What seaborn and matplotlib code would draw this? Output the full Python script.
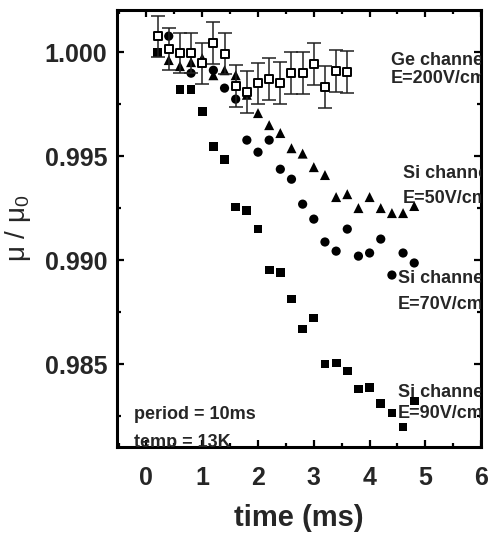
import numpy as np
import pandas as pd
import seaborn as sns
import matplotlib.pyplot as plt
from matplotlib.ticker import MultipleLocator

# Ge channel, E=200V/cm (open squares with error bars)
time_ge = [0.2, 0.4, 0.6, 0.8, 1.0, 1.2, 1.4, 1.6, 1.8, 2.0, 2.2, 2.4, 2.6, 2.8, 3.0, 3.2, 3.4, 3.6]
mu_ge = [1.00077, 1.00014, 0.99995, 0.99995, 0.99947, 1.00043, 0.99993, 0.99837, 0.99808,
         0.99851, 0.99870, 0.99851, 0.99899, 0.99899, 0.99942, 0.99832, 0.99909, 0.99904]
err_ge = [0.00098, 0.00100, 0.00095, 0.00095, 0.00098, 0.00100, 0.00097, 0.00100, 0.00100,
          0.00098, 0.00100, 0.00100, 0.00100, 0.00100, 0.00100, 0.00100, 0.00100, 0.00100]

# Si channel, E=50V/cm (triangles)
time_50 = [0.4, 0.6, 0.8, 1.0, 1.2, 1.4, 1.6, 1.8, 2.0, 2.2, 2.4, 2.6, 2.8, 3.0, 3.2, 3.4, 3.6,
           3.8, 4.0, 4.2, 4.4, 4.6, 4.8]
mu_50 = [0.99962, 0.99933, 0.99952, 0.99971, 0.99889, 0.99913, 0.99889, 0.99795, 0.99707,
         0.99649, 0.99611, 0.99538, 0.99512, 0.99447, 0.99409, 0.99303, 0.99317, 0.99250,
         0.99303, 0.99250, 0.99226, 0.99226, 0.99260]

# Si channel, E=70V/cm (circles)
time_70 = [0.4, 0.8, 1.2, 1.4, 1.6, 1.8, 2.0, 2.2, 2.4, 2.6, 2.8, 3.0, 3.2, 3.4, 3.6, 3.8,
           4.0, 4.2, 4.4, 4.6, 4.8]
mu_70 = [1.00077, 0.99899, 0.99913, 0.99827, 0.99774, 0.99577, 0.99519, 0.99577, 0.99437,
         0.99389, 0.99269, 0.99197, 0.99087, 0.99043, 0.99149, 0.99019, 0.99034, 0.99101,
         0.98928, 0.99034, 0.98986]

# Si channel, E=90V/cm (filled squares)
time_90 = [0.2, 0.6, 0.8, 1.0, 1.2, 1.4, 1.6, 1.8, 2.0, 2.2, 2.4, 2.6, 2.8, 3.0, 3.2, 3.4,
           3.6, 3.8, 4.0, 4.2, 4.4, 4.6, 4.8]
mu_90 = [1.00000, 0.99822, 0.99822, 0.99716, 0.99546, 0.99483, 0.99255, 0.99240, 0.99149,
         0.98952, 0.98942, 0.98813, 0.98668, 0.98721, 0.98500, 0.98505, 0.98466, 0.98380,
         0.98389, 0.98312, 0.98264, 0.98197, 0.98322]

sns.set_style('ticks')
plt.rcParams['font.family'] = ['Liberation Sans', 'DejaVu Sans']
plt.rcParams['mathtext.fontset'] = 'custom'
plt.rcParams['mathtext.rm'] = 'Liberation Sans'
plt.rcParams['mathtext.it'] = 'Liberation Sans'

df = pd.concat([
    pd.DataFrame({'time': time_90, 'mu': mu_90, 'series': 'E=90'}),
    pd.DataFrame({'time': time_70, 'mu': mu_70, 'series': 'E=70'}),
    pd.DataFrame({'time': time_50, 'mu': mu_50, 'series': 'E=50'}),
])

fig = plt.figure(figsize=(4.91, 5.35), dpi=100)
ax = fig.add_axes([0.238, 0.1645, 0.742, 0.8165])

sns.scatterplot(data=df, x='time', y='mu', style='series',
                markers={'E=90': 's', 'E=70': 'o', 'E=50': '^'},
                size='series', sizes={'E=90': 40, 'E=70': 44, 'E=50': 52},
                color='black', edgecolor='none', legend=False, ax=ax, zorder=3)

# error bars + open squares for the Ge channel
ax.errorbar(time_ge, mu_ge, yerr=err_ge, fmt='none', ecolor='#222222',
            elinewidth=1.1, capsize=5, capthick=1.1, zorder=4)
sns.scatterplot(x=time_ge, y=mu_ge, marker='s', s=40, facecolor='white',
                edgecolor='black', linewidth=1.4, legend=False, ax=ax, zorder=5)

ax.set_xlim(-0.53, 6.0)
ax.set_ylim(0.98101, 1.00202)
ax.xaxis.set_major_locator(MultipleLocator(1))
ax.xaxis.set_minor_locator(MultipleLocator(0.5))
ax.yaxis.set_major_locator(MultipleLocator(0.005))
ax.yaxis.set_minor_locator(MultipleLocator(0.0025))
ax.yaxis.set_major_formatter(plt.FormatStrFormatter('%.3f'))

for sp in ax.spines.values():
    sp.set_linewidth(2.2)
    sp.set_color('black')
ax.tick_params(which='both', direction='in', top=True, right=True, width=1.6, color='black')
ax.tick_params(which='major', length=5)
ax.tick_params(which='minor', length=3)
ax.tick_params(axis='x', which='major', pad=14, labelsize=18)
ax.tick_params(axis='y', which='major', pad=7, labelsize=18)
for lab in ax.get_xticklabels() + ax.get_yticklabels():
    lab.set_fontweight('bold')

ax.set_xlabel('time (ms)', fontsize=21, fontweight='bold', labelpad=10)
ax.set_ylabel(r'$\mathrm{\mu}$ / $\mathrm{\mu}_0$', fontsize=20, labelpad=8)

# annotations are clipped at the right spine, as in the original figure
txt = dict(fontsize=13, fontweight='bold', va='center', ha='left', clip_on=True)
ax.text(4.38, 0.99962, 'Ge channel', **txt)
ax.text(4.38, 0.99875, 'E=200V/cm', **txt)
ax.text(4.60, 0.99418, 'Si channel', **txt)
ax.text(4.60, 0.99298, 'E=50V/cm', **txt)
ax.text(4.51, 0.98913, 'Si channel', **txt)
ax.text(4.51, 0.98784, 'E=70V/cm', **txt)
ax.text(4.51, 0.98365, 'Si channel', **txt)
ax.text(4.51, 0.98264, 'E=90V/cm', **txt)
ax.text(-0.22, 0.98255, 'period = 10ms', **txt)
ax.text(-0.22, 0.98125, 'temp = 13K', **txt)

plt.savefig('out.png', dpi=100)
